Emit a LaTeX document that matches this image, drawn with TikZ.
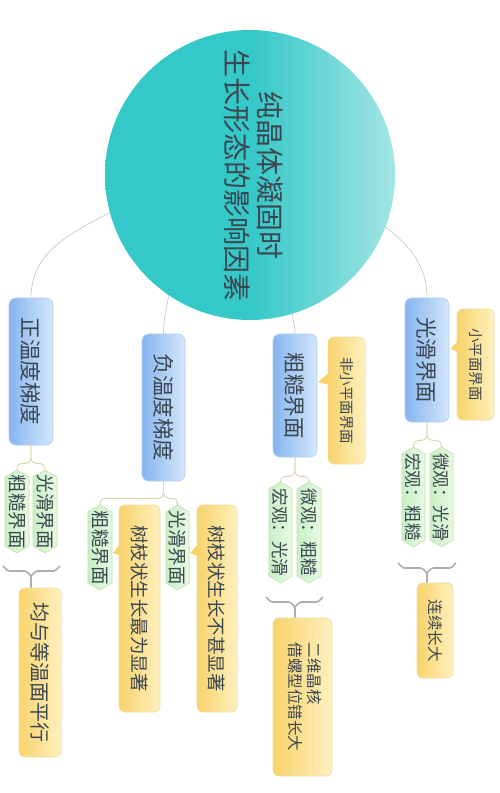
\documentclass[tikz,border=0pt]{standalone}
\usepackage{fontspec}
\usepackage{graphicx}
\newfontfamily\cjk{Noto Sans CJK SC}
\usetikzlibrary{backgrounds,calc}
\definecolor{tealL}{HTML}{34C8C8}
\definecolor{tealR}{HTML}{A2E5E3}
\definecolor{blueL}{HTML}{86B5EE}
\definecolor{blueR}{HTML}{D4E7FB}
\definecolor{blueB}{HTML}{B0CDEF}
\definecolor{yelL}{HTML}{F8D36C}
\definecolor{yelR}{HTML}{FFF0BE}
\definecolor{yelB}{HTML}{EFDCA0}
\definecolor{grnL}{HTML}{C8F0C6}
\definecolor{grnR}{HTML}{E6FAE3}
\definecolor{grnB}{HTML}{C5DFA6}
\definecolor{txt}{HTML}{3C4650}
\definecolor{lineG}{HTML}{C9C9C9}
\definecolor{lineT}{HTML}{DDD3AE}
\definecolor{braceG}{HTML}{ADADAD}
\newcommand\vt[1]{\rotatebox{-90}{#1}}
\newcommand\fs[1]{\cjk\fontsize{#1}{#1}\selectfont}
% name, cx, cy, w, h, text
\newcommand\grnnode[6]{%
  \path[gshape] (#2-#4/2,#3-#5/2+7) -- (#2,#3-#5/2) -- (#2+#4/2,#3-#5/2+7)
     -- (#2+#4/2,#3+#5/2-7) -- (#2,#3+#5/2) -- (#2-#4/2,#3+#5/2-7) -- cycle;
  \node[gtext, minimum width=#4pt, minimum height=#5pt] (#1) at (#2,#3) {\vt{#6}};}
\begin{document}
\begin{tikzpicture}[x=1pt,y=-1pt,
 bluebox/.style={rectangle, rounded corners=7pt, draw=blueB, line width=0.6pt, left color=blueL, right color=blueR, inner sep=0pt, text=txt, font=\fs{21.5}},
 yelbox/.style={rectangle, rounded corners=6pt, draw=yelB, line width=0.6pt, left color=yelL, right color=yelR, inner sep=0pt, text=txt},
 gshape/.style={draw=grnB, line width=0.6pt, left color=grnL, right color=grnR},
 gtext/.style={rectangle, inner sep=0pt, text=txt, font=\fs{17.5}},
 curveline/.style={draw=lineG, line width=0.7pt},
 tree/.style={draw=lineT, line width=0.9pt, rounded corners=5pt},
 brace/.style={draw=braceG, line width=1.6pt, rounded corners=1.5pt},
 ptr/.style={fill=yelL, draw=none}
]
\useasboundingbox (0,0) rectangle (500,793);

% central circle
\node[circle, minimum size=290pt, inner sep=0pt, left color=tealL, right color=tealR, middle color=tealL, text=txt, font=\cjk\fontsize{28}{32}\selectfont] (c) at (250,175)
  {\vt{\begin{tabular}{@{}c@{}}纯晶体凝固时\\生长形态的影响因素\end{tabular}}};

% main branches
\node[bluebox, minimum width=44pt, minimum height=147pt] (b1) at (31,371.5) {\vt{正温度梯度}};
\node[bluebox, minimum width=43pt, minimum height=147pt] (b2) at (163.5,407.5) {\vt{负温度梯度}};
\node[bluebox, minimum width=44pt, minimum height=123pt] (b3) at (295,395.5) {\vt{粗糙界面}};
\node[bluebox, minimum width=44pt, minimum height=124pt] (b4) at (427,360) {\vt{光滑界面}};

\begin{scope}[on background layer]
\draw[curveline] (c.195) to[out=208,in=90] (b1.north);
\draw[curveline] (c.236) to[out=260,in=90] (b2.north);
\draw[curveline] (c.-73) to[out=-85,in=90] (b3.north);
\draw[curveline] (c.-21) to[out=-38,in=90] (b4.north);
\end{scope}

% callouts on blue nodes
\node[yelbox, minimum width=37pt, minimum height=127pt, font=\fs{14.5}] (y4) at (346.5,400.5) {\vt{非小平面界面}};
\fill[ptr] (330,372) -- (318,382) -- (330,385) -- cycle;
\node[yelbox, minimum width=37pt, minimum height=111pt, font=\fs{14.5}] (y5) at (475.5,364.5) {\vt{小平面界面}};
\fill[ptr] (459,340) -- (450,349) -- (459,352) -- cycle;

% green children
\grnnode{g1}{17}{511.5}{24}{83}{\fs{18.5}粗糙界面}
\grnnode{g2}{45}{511.5}{24}{83}{\fs{18.5}光滑界面}
\grnnode{g3}{100}{547.5}{24}{85}{\fs{18.5}粗糙界面}
\grnnode{g4}{177.5}{547.5}{23}{85}{\fs{18.5}光滑界面}
\grnnode{g5}{280.5}{532.5}{23}{101}{宏观：光滑}
\grnnode{g6}{309}{532.5}{24}{101}{微观：粗糙}
\grnnode{g7}{413.5}{497}{23}{100}{宏观：粗糙}
\grnnode{g8}{441.5}{497}{23}{100}{微观：光滑}

\draw[tree] (b1.south) -- ++(0,18) -| (g1.north);
\draw[tree] (b1.south) -- ++(0,18) -| (g2.north);
\draw[tree] (b2.south) -- ++(0,17) -| (g3.north);
\draw[tree] (b2.south) -- ++(0,17) -| (g4.north);
\draw[tree] (b3.south) -- ++(0,19) -| (g5.north);
\draw[tree] (b3.south) -- ++(0,19) -| (g6.north);
\draw[tree] (b4.south) -- ++(0,18) -| (g7.north);
\draw[tree] (b4.south) -- ++(0,18) -| (g8.north);

% callouts on green nodes
\node[yelbox, minimum width=41pt, minimum height=207pt, font=\fs{18.5}] (y2) at (139.5,608.5) {\vt{树枝状生长最为显著}};
\fill[ptr] (121,543) -- (113,553) -- (121,556) -- cycle;
\node[yelbox, minimum width=40pt, minimum height=207pt, font=\fs{18.5}] (y3) at (217,608.5) {\vt{树枝状生长不甚显著}};
\fill[ptr] (199,543) -- (190,553) -- (199,556) -- cycle;

% summaries
\node[yelbox, minimum width=42pt, minimum height=169pt, font=\fs{20}] (y1) at (40,672.5) {\vt{均与等温面平行}};
\node[yelbox, minimum width=59pt, minimum height=158pt, font=\cjk\fontsize{15.5}{19}\selectfont] (y6) at (302.5,697)
  {\vt{\begin{tabular}{@{}l@{}}二维晶核\\借螺型位错长大\end{tabular}}};
\node[yelbox, minimum width=36pt, minimum height=95pt, font=\fs{15.5}] (y7) at (435,630.5) {\vt{连续长大}};

% braces
\draw[brace] (3,566) -- (8,571) -- (26,571) -- (31,576) -- (31,0 |- y1.north);
\draw[brace] (60,566) -- (55,571) -- (36,571) -- (31,576);
\draw[brace] (266,597) -- (271,602) -- (290,602) -- (295,607) -- (295,0 |- y6.north);
\draw[brace] (323,597) -- (318,602) -- (300,602) -- (295,607);
\draw[brace] (398,563) -- (403,568) -- (422,568) -- (427,573) -- (427,0 |- y7.north);
\draw[brace] (456,563) -- (451,568) -- (432,568) -- (427,573);
\end{tikzpicture}
\end{document}
